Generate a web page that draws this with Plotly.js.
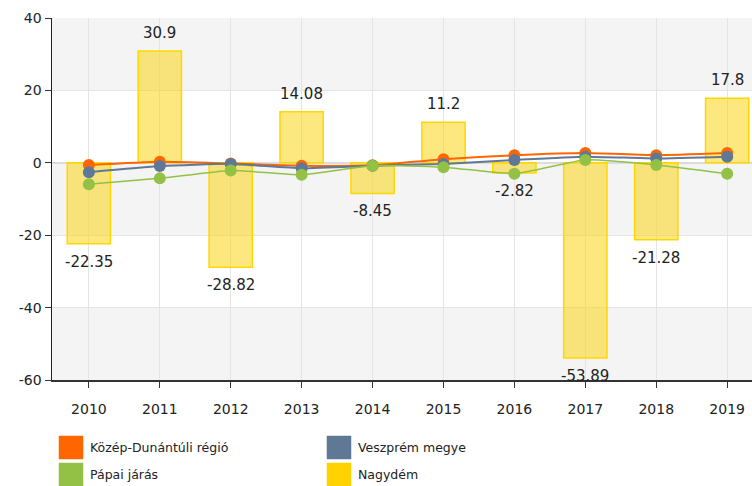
<!DOCTYPE html>
<html>
<head>
<meta charset="utf-8">
<script src="https://cdn.plot.ly/plotly-3.0.1.min.js"></script>
<style>html,body{margin:0;padding:0;background:#fff;}#chart{width:752px;height:486px;}</style>
</head>
<body>
<div id="chart"></div>
<script>
const years = ["2010","2011","2012","2013","2014","2015","2016","2017","2018","2019"];
const regionName = "Közép-Dunántúli régió";
const regionValues = [-0.6, 0.3, -0.2, -0.8, -0.7, 1.0, 2.1, 2.7, 2.1, 2.7];
const countyName = "Veszprém megye";
const countyValues = [-2.6, -0.9, -0.3, -1.5, -0.8, -0.3, 0.8, 1.7, 1.2, 1.7];
const districtName = "Pápai járás";
const districtValues = [-5.9, -4.3, -2.1, -3.3, -0.8, -1.2, -3.0, 0.8, -0.6, -3.0];
const townName = "Nagydém";
const townValues = [-22.35, 30.9, -28.82, 14.08, -8.45, 11.2, -2.82, -53.89, -21.28, 17.8];
const yTickVals = [-60, -40, -20, 0, 20, 40];
const yTickText = ["-60", "-40", "-20", "0", "20", "40"];

const FONT = "DejaVu Sans, Verdana, sans-serif";
const cOrange = "#ff6600", cBlue = "#5f7896", cGreen = "#92c146", cYellow = "#ffd200";

const traces = [
  {type:"bar", x:years, y:townValues, name:townName, width:0.61,
   marker:{color:"rgba(250,214,20,0.55)", line:{color:"#ffd700", width:1.5}},
   hoverinfo:"none"},
  {type:"scatter", mode:"lines+markers", x:years, y:regionValues, name:regionName,
   line:{color:cOrange, width:2, shape:"spline", smoothing:0.5},
   marker:{color:cOrange, size:12}},
  {type:"scatter", mode:"lines+markers", x:years, y:countyValues, name:countyName,
   line:{color:cBlue, width:2, shape:"spline", smoothing:0.5},
   marker:{color:cBlue, size:12}},
  {type:"scatter", mode:"lines+markers", x:years, y:districtValues, name:districtName,
   line:{color:cGreen, width:1.5, shape:"spline", smoothing:0.5},
   marker:{color:cGreen, size:12}}
];

// background bands
const shapes = [];
[[20,40],[-20,0],[-60,-40]].forEach(b => {
  shapes.push({type:"rect", xref:"paper", yref:"y", x0:0, x1:1, y0:b[0], y1:b[1],
    fillcolor:"#f4f4f4", line:{width:0}, layer:"below"});
});

// bar value labels
const annotations = townValues.map((v, i) => ({
  x: i, y: v, xref:"x", yref:"y",
  text: String(v), showarrow:false,
  xanchor:"center",
  yanchor: v >= 0 ? "bottom" : "top",
  yshift: v >= 0 ? 7 : -7,
  font:{family:FONT, size:15, color:"#222"}
}));

// custom legend
const legendItems = [
  {name:regionName, color:cOrange, col:0, row:0},
  {name:countyName, color:cBlue, col:1, row:0},
  {name:districtName, color:cGreen, col:0, row:1},
  {name:townName, color:cYellow, col:1, row:1}
];
const PW = 700, PH = 362;
legendItems.forEach(it => {
  const x0px = it.col === 0 ? 7 : 275;
  const y0px = it.row === 0 ? 56 : 83; // below plot bottom
  shapes.push({type:"rect", xref:"paper", yref:"paper",
    x0:x0px/PW, x1:(x0px+24)/PW, y0:-(y0px)/PH, y1:-(y0px+23)/PH,
    fillcolor:it.color, line:{color:it.color, width:0.5}, layer:"above"});
  annotations.push({xref:"paper", yref:"paper", x:(x0px+29)/PW, y:-(y0px+11.5)/PH,
    xanchor:"left", yanchor:"middle", showarrow:false, text:it.name,
    font:{family:FONT, size:12.5, color:"#222"}});
});

const layout = {
  width:752, height:486,
  margin:{l:52, r:0, t:18, b:106, pad:0},
  paper_bgcolor:"#fff", plot_bgcolor:"#fff",
  showlegend:false,
  font:{family:FONT, color:"#222"},
  xaxis:{type:"category", range:[-0.52, 9.35], showgrid:true, gridcolor:"#e4e4e4", gridwidth:1,
    showline:true, linecolor:"#333", linewidth:1.5, ticks:"outside", ticklen:6, tickcolor:"#333",
    ticklabelstandoff:10, tickfont:{family:FONT, size:14, color:"#222"}, zeroline:false, fixedrange:true},
  yaxis:{range:[-60, 40], tickvals:yTickVals, ticktext:yTickText, showgrid:true, gridcolor:"#e4e4e4",
    showline:true, linecolor:"#222", linewidth:1.5, ticks:"outside", ticklen:6, tickcolor:"#333",
    tickfont:{family:FONT, size:14, color:"#222"}, zeroline:true, zerolinecolor:"#dcdcdc", zerolinewidth:1.5,
    fixedrange:true},
  shapes:shapes,
  annotations:annotations
};

Plotly.newPlot("chart", traces, layout, {displayModeBar:false, staticPlot:true});
</script>
</body>
</html>
